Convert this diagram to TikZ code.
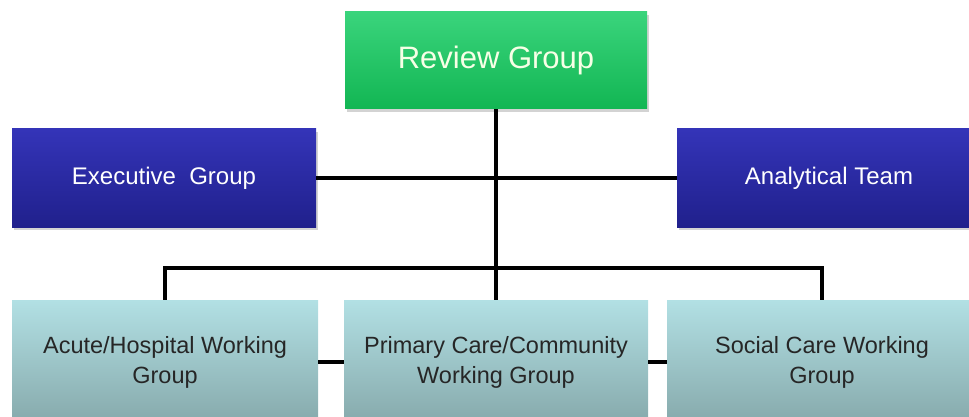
\documentclass[tikz,border=0pt]{standalone}
\usepackage{fontspec}
\setmainfont{Liberation Sans}
\usetikzlibrary{positioning, shadows}
\definecolor{revtop}{HTML}{3AD47C}
\definecolor{revbot}{HTML}{12B653}
\definecolor{revtext}{HTML}{F6FFE6}
\definecolor{bluetop}{HTML}{3434B8}
\definecolor{bluebot}{HTML}{20208C}
\definecolor{wgtop}{HTML}{B2E0E4}
\definecolor{wgbot}{HTML}{86A9AB}

\begin{document}
\begin{tikzpicture}[x=1pt, y=-1pt,
        box/.style={draw=none, inner sep=0pt, align=center},
        shadowed/.style={drop shadow={shadow xshift=2pt, shadow yshift=-3pt, opacity=0.35}},
        reviewbox/.style={box, shadowed, top color=revtop, bottom color=revbot, text=revtext,
            minimum width=302pt, minimum height=97pt, font=\fontsize{31}{36}\selectfont},
        teambox/.style={box, shadowed, top color=bluetop, bottom color=bluebot, text=white,
            minimum width=304pt, minimum height=98pt, font=\fontsize{24}{29}\selectfont},
        workbox/.style={box, top color=wgtop, bottom color=wgbot, text=black!85,
            minimum width=306pt, minimum height=124pt, font=\fontsize{23.5}{30}\selectfont},
        link/.style={line width=3.6pt, black}]
    \path[use as bounding box, clip] (0,0) rectangle (969,417);

    % Top level
    \node[reviewbox] (review) at (496,60.5) {Review Group};

    % Side groups
    \node[teambox] (exec) at (164,178) {Executive\ \ Group};
    \node[teambox] (analyt) at (829,178) {Analytical Team};

    % Working groups
    \node[workbox] (acute) at (165,362) {Acute/Hospital Working\\Group};
    \node[workbox, minimum width=304pt] (primary) at (496,362) {Primary Care/Community\\Working Group};
    \node[workbox, minimum width=310pt] (social) at (822,362) {Social Care Working\\Group};

    % Connectors
    \coordinate (bar) at (496,268);
    \draw[link] (exec.east) -- (analyt.west);
    \draw[link] (review.south) -- (primary.north);
    \draw[link] (acute.north) |- (bar) -| (social.north);
    \draw[link] (acute.east) -- (primary.west);
    \draw[link] (primary.east) -- (social.west);
\end{tikzpicture}
\end{document}
